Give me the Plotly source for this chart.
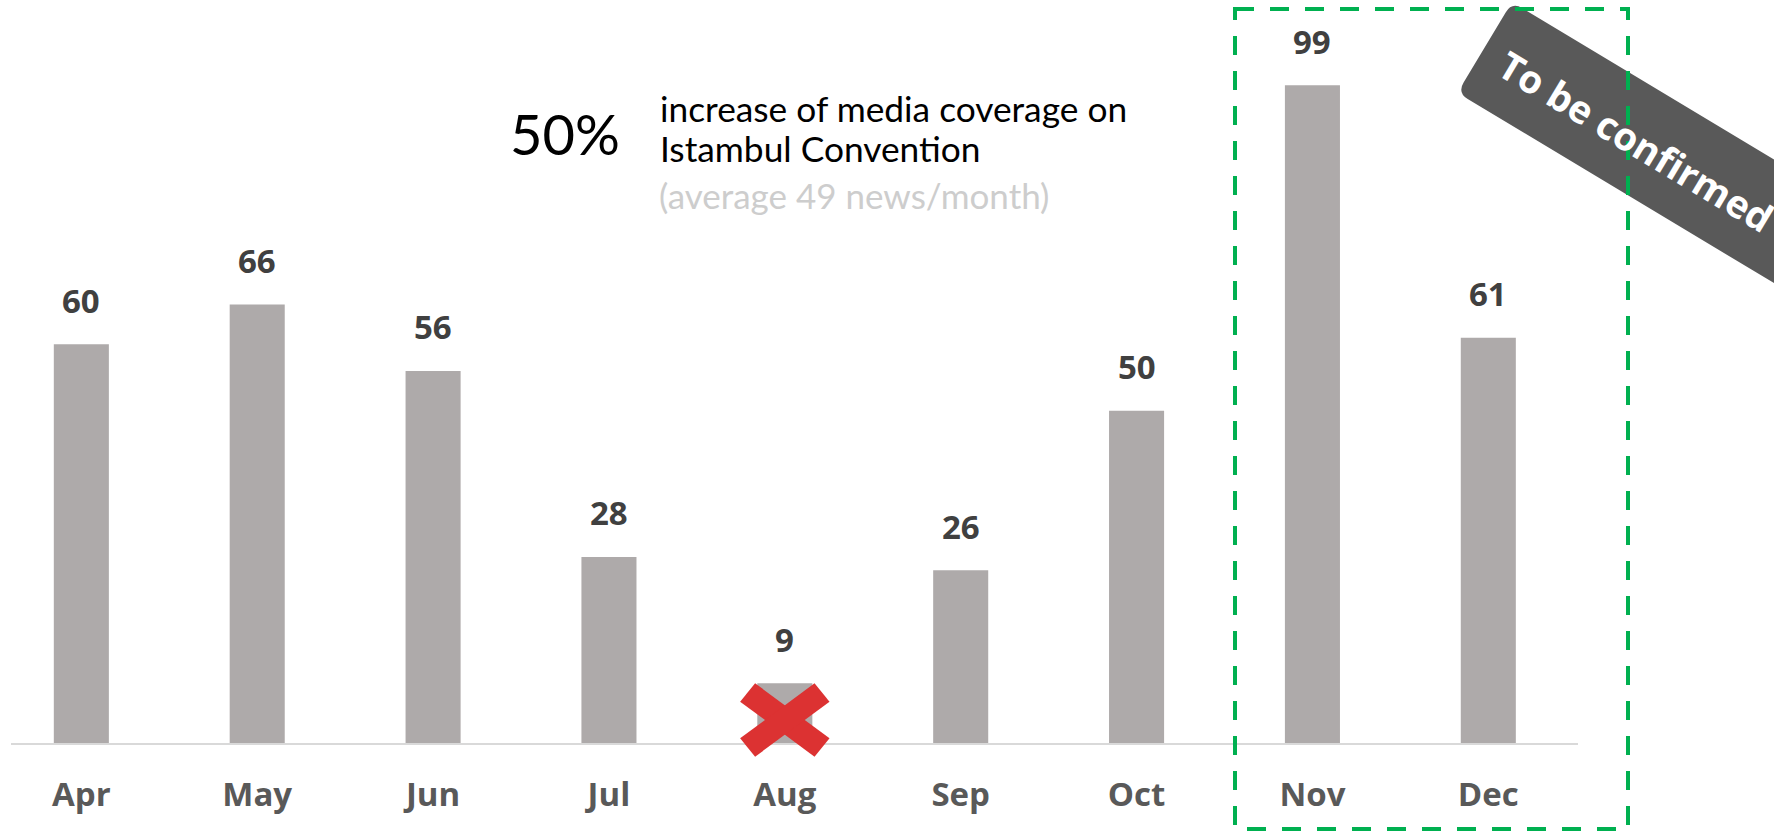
import math
import plotly.graph_objects as go

# ---- data ----
months = ["Apr", "May", "Jun", "Jul", "Aug", "Sep", "Oct", "Nov", "Dec"]
news_count = [60, 66, 56, 28, 9, 26, 50, 99, 61]
headline_value = "50%"
headline_lines = ["increase of media coverage on", "Istambul Convention"]
note_line = "(average 49 news/month)"
banner_text = "To be confirmed"

W, H = 1774, 832
L_M, R_EDGE = 11, 1578
T_M, BASE = 20, 743
PW, PH = R_EDGE - L_M, BASE - T_M
PX_PER_UNIT = 6.645
X_RANGE = [-0.4, 8.51]


def px_x(x):
    return (x - L_M) / PW


def px_y(y):
    return (BASE - y) / PH


BAR_COLOR = "#AEAAAA"
LABEL_COLOR = "#404040"
TICK_COLOR = "#595959"

fig = go.Figure()
fig.add_trace(go.Bar(
    x=months, y=news_count, width=0.313,
    marker=dict(color=BAR_COLOR, line=dict(width=0)),
    hoverinfo="skip",
))

annotations = []
# value labels
for m, v in zip(months, news_count):
    annotations.append(dict(
        x=m, y=v, xref="x", yref="y", text=str(v), showarrow=False,
        xanchor="center", yanchor="middle", yshift=44,
        font=dict(family="Open Sans", size=33, color=LABEL_COLOR, weight="bold"),
    ))

# headline text block
annotations.append(dict(
    x=px_x(565), y=px_y(133), xref="paper", yref="paper", text=headline_value,
    showarrow=False, xanchor="center", yanchor="middle",
    font=dict(family="Lato", size=56, color="#000000"),
))
line_ys = [108, 148, 195]
for txt, yy in zip(headline_lines, line_ys[:2]):
    annotations.append(dict(
        x=px_x(658), y=px_y(yy), xref="paper", yref="paper", text=txt,
        showarrow=False, xanchor="left", yanchor="middle",
        font=dict(family="Lato", size=35.3, color="#000000"),
    ))
annotations.append(dict(
    x=px_x(657), y=px_y(line_ys[2]), xref="paper", yref="paper", text=note_line,
    showarrow=False, xanchor="left", yanchor="middle",
    font=dict(family="Lato", size=35, color="#CDCDCD"),
))

# banner geometry (pixel space)
ang = math.radians(31)
u = (math.cos(ang), math.sin(ang))
n = (-math.sin(ang), math.cos(ang))
P0 = (1512, 2)
T = 106
Lb = 600
r = 12


def add(p, v, k):
    return (p[0] + v[0] * k, p[1] + v[1] * k)


P1 = add(P0, n, T)
P2 = add(P1, u, Lb)
P3 = add(P0, u, Lb)


def pp(p):
    return f"{px_x(p[0]):.5f},{px_y(p[1]):.5f}"


path = (
    f"M {pp(add(P0, u, r))} Q {pp(P0)} {pp(add(P0, n, r))} "
    f"L {pp(add(P1, n, -r))} Q {pp(P1)} {pp(add(P1, u, r))} "
    f"L {pp(P2)} L {pp(P3)} Z"
)

center = add(add(P0, u, 178), n, 55)
annotations.append(dict(
    x=px_x(center[0]), y=px_y(center[1]), xref="paper", yref="paper",
    text=banner_text, showarrow=False, textangle=31,
    xanchor="center", yanchor="middle",
    font=dict(family="Open Sans", size=38.5, color="#FFFFFF", weight="bold"),
))

shapes = [
    dict(type="path", xref="paper", yref="paper", path=path,
         fillcolor="#595959", line=dict(width=0), layer="above"),
    dict(type="rect", xref="paper", yref="paper",
         x0=px_x(1235), x1=px_x(1628), y0=px_y(9), y1=px_y(829),
         line=dict(color="#00B050", width=4, dash="19px,16px"),
         fillcolor="rgba(0,0,0,0)", layer="above"),
]

# red cross over the Aug bar, positioned from the Aug category on the x range
aug_idx = months.index("Aug")
cx_paper = (aug_idx - X_RANGE[0]) / (X_RANGE[1] - X_RANGE[0])
cy_px = 23  # centre height above the baseline, in pixels
A, B, C, D = (-44.7, 18.3), (-29.7, 36.7), (44.7, -18.3), (29.7, -36.7)
poly1 = [A, B, C, D]
poly2 = [(-x, y) for (x, y) in poly1]
for poly in (poly1, poly2):
    pts = [f"{cx_paper + x / PW:.5f},{(y + cy_px) / PH:.5f}" for x, y in poly]
    shapes.append(dict(
        type="path", xref="paper", yref="paper",
        path="M " + " L ".join(pts) + " Z",
        fillcolor="#DC3232", line=dict(width=0), layer="above",
    ))

fig.update_layout(
    width=W, height=H,
    margin=dict(l=L_M, r=W - R_EDGE, t=T_M, b=H - BASE),
    paper_bgcolor="white", plot_bgcolor="white",
    showlegend=False,
    annotations=annotations,
    shapes=shapes,
    xaxis=dict(
        range=X_RANGE, showgrid=False, zeroline=False,
        showline=True, linecolor="#D9D9D9", linewidth=2,
        ticks="", ticklabelstandoff=21,
        tickfont=dict(family="Open Sans", size=33, color=TICK_COLOR, weight="bold"),
        fixedrange=True,
    ),
    yaxis=dict(
        range=[0, PH / PX_PER_UNIT], visible=False, showgrid=False,
        zeroline=False, fixedrange=True,
    ),
)

fig.write_html(
    "out.html",
    config={"displayModeBar": False},
    post_script="document.body.style.margin='0';document.body.style.overflow='hidden';",
)
